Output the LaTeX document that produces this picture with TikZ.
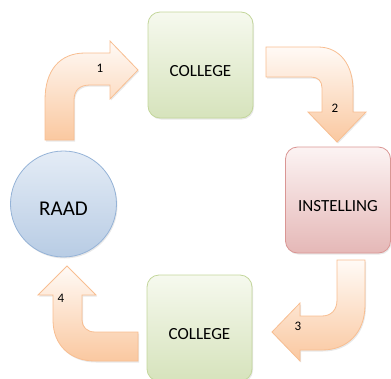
\documentclass[tikz,border=0pt]{standalone}
\usepackage{fontspec}
\setmainfont{Carlito}
\usepackage{xcolor}
\usetikzlibrary{calc, shadows}

\definecolor{greenline}{RGB}{195,214,155}
\definecolor{greentop}{RGB}{246,249,238}
\definecolor{greenbottom}{RGB}{214,227,188}
\definecolor{pinkline}{RGB}{218,150,148}
\definecolor{pinktop}{RGB}{252,243,243}
\definecolor{pinkbottom}{RGB}{229,184,183}
\definecolor{blueline}{RGB}{149,179,215}
\definecolor{bluetop}{RGB}{228,236,246}
\definecolor{bluebottom}{RGB}{184,204,228}
\definecolor{arrowline}{RGB}{248,190,145}
\definecolor{arrowtop}{RGB}{255,250,246}
\definecolor{arrowbottom}{RGB}{250,200,160}

\tikzset{
	softshadow/.style={drop shadow={opacity=0.18, shadow xshift=1pt, shadow yshift=-1.5pt}},
	box/.style={rounded corners=12pt, line width=0.8pt, minimum width=105pt, minimum height=106pt,
		text height=23pt, text depth=0pt, font=\fontsize{17}{20}\selectfont, softshadow},
	collegebox/.style={box, draw=greenline, top color=greentop, bottom color=greenbottom},
	instbox/.style={box, draw=pinkline, top color=pinktop, bottom color=pinkbottom},
	raadcircle/.style={circle, line width=0.8pt, minimum size=106pt, draw=blueline,
		top color=bluetop, bottom color=bluebottom, text height=23pt, text depth=0pt,
		font=\fontsize{21}{24}\selectfont, softshadow},
	bentarrow/.style={draw=arrowline, line width=0.8pt, top color=arrowtop, bottom color=arrowbottom, softshadow},
	numlabel/.style={font=\fontsize{13}{15}\selectfont},
}

\begin{document}
\begin{tikzpicture}[x=1pt, y=-1pt]
	\useasboundingbox (0,0) rectangle (391,378);
	
	% the four stations
	\node [raadcircle] (raad) at (63.5,204) {RAAD};
	\node [collegebox] (collegetop) at (200.5,65) {COLLEGE};
	\node [instbox] (instelling) at (338,200) {INSTELLING};
	\node [collegebox] (collegebottom) at (199.5,328) {COLLEGE};
	
	% 1: raad -> college
	\draw [bentarrow] (45,140) -- (45,100) .. controls (45,70) and (60,53) .. (85,53) -- (110,53) -- (110,41)
		-- (138,70) -- (110,99) -- (110,85) -- (90,85) .. controls (80,85) and (74,90) .. (74,100) -- (74,140) -- cycle;
	\node [numlabel] (one) at (100,68) {1};
	
	% 2: college -> instelling
	\draw [bentarrow] (266,47) -- (318,47) .. controls (340,47) and (353,65) .. (353,90) -- (353,112) -- (366,112)
		-- (337,142) -- (308,112) -- (322,112) -- (322,88) .. controls (322,81) and (318,77) .. (311,77) -- (266,77) -- cycle;
	\node [numlabel] (two) at (335,108) {2};
	
	% 3: instelling -> college
	\draw [bentarrow] (337,260) -- (365,260) -- (365,305) .. controls (365,332) and (348,350) .. (322,350) -- (300,350)
		-- (300,361) -- (272,332) -- (300,303) -- (300,316) -- (322,316) .. controls (331,316) and (337,310) .. (337,300) -- cycle;
	\node [numlabel] (three) at (298,326) {3};
	
	% 4: college -> raad
	\draw [bentarrow] (138,332) -- (138,361) -- (95,361) .. controls (70,361) and (53,345) .. (53,320) -- (53,295)
		-- (38,295) -- (67,266) -- (96,295) -- (82,295) -- (82,320) .. controls (82,327) and (87,332) .. (95,332) -- cycle;
	\node [numlabel] (four) at (61,298) {4};
\end{tikzpicture}
\end{document}
